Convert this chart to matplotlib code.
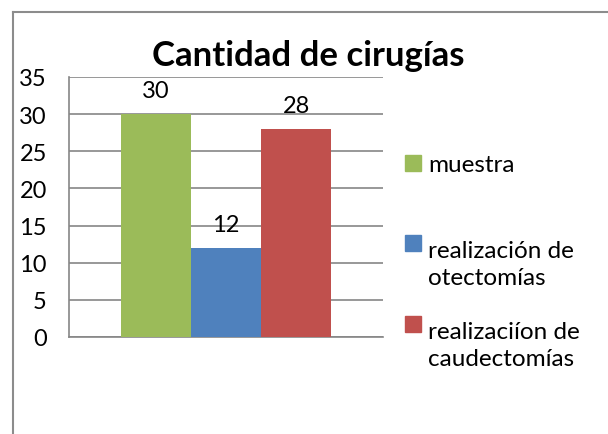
import matplotlib
matplotlib.use("Agg")
import matplotlib.pyplot as plt
from matplotlib.patches import Rectangle
from matplotlib.lines import Line2D

title = "Cantidad de cirugías"
series_labels = ["muestra", "realización de\notectomías", "realizaciíon de\ncaudectomías"]
values = [30, 12, 28]
colors = ["#9BBB59", "#4F81BD", "#C0504D"]
yticks = [0, 5, 10, 15, 20, 25, 30, 35]

plt.rcParams['font.family'] = ['Lato', 'DejaVu Sans']

W, H = 608, 435
fig = plt.figure(figsize=(W / 100, H / 100), dpi=100)

def fx(px):
    return px / W

def fy(py):
    return 1 - py / H

# outer border (left and top)
fig.add_artist(Line2D([fx(12.5), fx(12.5)], [fy(12.5), 0], color="#8c8c8c", lw=1.5))
fig.add_artist(Line2D([fx(12.5), 1], [fy(12.5), fy(12.5)], color="#8c8c8c", lw=1.5))

left, right, top, bottom = 69, 383, 78, 338
ax = fig.add_axes([fx(left), fy(bottom), fx(right - left), (bottom - top) / H])

x = list(range(len(values)))
bars = ax.bar(x, values, width=1.0, color=colors, zorder=3)
gap = 52 / 70
ax.set_xlim(-0.5 - gap, len(values) - 0.5 + gap)
ax.set_ylim(0, 35)
ax.set_yticks(yticks)
ax.set_xticks([])
ax.yaxis.grid(True, color="#868686", lw=1.2, zorder=0)
ax.set_axisbelow(True)
for s in ["top", "right"]:
    ax.spines[s].set_visible(False)
for s in ["left", "bottom"]:
    ax.spines[s].set_color("#868686")
    ax.spines[s].set_linewidth(1.2)
ax.tick_params(axis="y", length=0, pad=16, labelsize=17)

for xi, v in zip(x, values):
    ax.annotate(str(v), (xi, v), xytext=(0, 12), textcoords="offset points",
                ha="center", va="baseline", fontsize=17)

fig.text(fx(308), fy(66), title, ha="center", va="baseline", fontsize=25, fontweight="bold")

# legend
leg_base = [172, 252, 333]
line_gap = 33
for lab, c, yy in zip(series_labels, colors, leg_base):
    fig.add_artist(Rectangle((fx(405), fy(yy)), fx(16), 16 / H, color=c, transform=fig.transFigure))
    nlines = lab.count("\n")
    fig.text(fx(428), fy(yy + line_gap * nlines), lab, ha="left", va="baseline",
             fontsize=17.5, linespacing=line_gap / (17.5 * 100 / 72))

fig.savefig("out.png", dpi=100)
